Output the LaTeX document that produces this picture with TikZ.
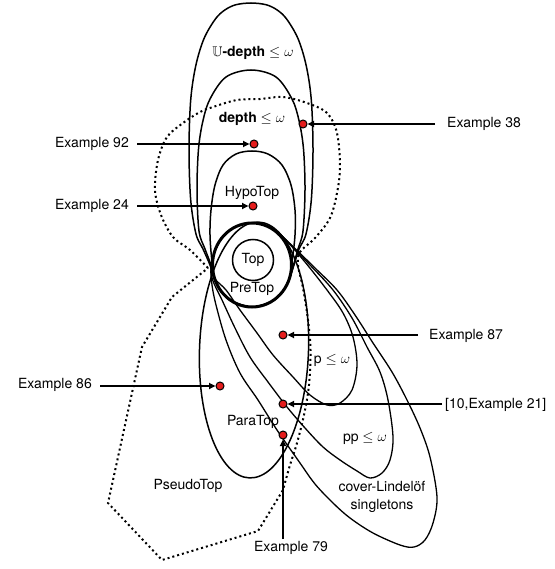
\documentclass[tikz,border=0pt]{standalone}
\usepackage{fontspec}
\usepackage{amssymb}
\setmainfont{TeX Gyre Heros}
\usetikzlibrary{arrows.meta}
\definecolor{dotred}{RGB}{228,28,28}
\begin{document}
\begin{tikzpicture}[x=1pt,y=-1pt,
  region/.style={line width=1.5pt},
  tilt/.style={line width=1.3pt},
  dotline/.style={line width=2pt, dash pattern=on 2pt off 3pt},
  lbl/.style={font=\fontsize{14}{16}\selectfont, inner sep=0pt},
  reddot/.style={circle, fill=dotred, draw=black, line width=1pt, minimum size=8pt, inner sep=0pt},
  arr/.style={line width=1.8pt, -{Triangle[length=6.5pt,width=6pt]}}]
\useasboundingbox[fill=white] (0,0) rectangle (554,569);

% U-depth
\draw[region] plot[smooth cycle, tension=0.55] coordinates {(252,307) (232.3,301.4) (221.7,292) (214.9,279.4) (210,265) (203,249) (196,234) (190.7,200) (189,150) (190.7,100) (195.8,65.6) (204,38.6) (215.4,19) (224.7,10.1) (235.7,4.8) (251,3) (266.3,4.8) (277.3,10.1) (286.6,19) (298,38.6) (306.2,65.6) (311.3,100) (313,150) (311.3,200) (306,234) (299,249) (294,265) (289.1,279.4) (282.3,292) (271.8,301.4)};
% depth
\draw[region] plot[smooth cycle, tension=0.55] coordinates {(252,307) (232.3,301.4) (221.7,292) (214.9,279.4) (211,265) (205,249) (199,231) (197,190) (198.5,149) (202.9,121) (210,99) (226,77) (251,70) (276,77) (292,99) (299.1,121) (303.5,149) (305,190) (303,231) (298,249) (293.5,265) (289.1,279.4) (282.3,292) (271.8,301.4)};
% HypoTop
\draw[region] plot[smooth cycle, tension=0.55] coordinates {(252,307) (232.3,301.4) (221.7,292) (214.9,279.4) (212,262) (210,235) (211,210) (215,185) (223,165) (236,154) (252,151) (268,154) (282,165) (291,185) (295,210) (295,235) (292,262) (289.1,279.4) (282.3,292) (271.8,301.4)};
% ParaTop
\draw[region, rotate around={-2:(254,350)}] (254,350) ellipse (54.5 and 128);
% p <= omega
\draw[tilt] plot[smooth cycle, tension=0.55] coordinates {(211,268) (215,251) (222,238) (232,228.6) (245,223.6) (259,223.6) (272,228.6) (284,238) (305,262) (327,290) (343,313) (353,337) (357,365) (352,390) (340,403) (327,405) (310,395) (293,377) (273,355) (257,333) (240,310) (226,290) (215,279)};
% pp <= omega
\draw[tilt] plot[smooth cycle, tension=0.55] coordinates {(211,268) (215,251) (222,238) (232,228.6) (245,223.6) (259,223.6) (272,228.6) (284,238) (310,265) (333,290) (352,318) (367,347) (380,372) (388,400) (393,437) (390,460) (382,473) (370,478) (357,471) (340,460) (323,447) (305,428) (287,407) (268,382) (250,357) (235,328) (222,300) (213,281)};
% cover-Lindeloef singletons
\draw[tilt] plot[smooth cycle, tension=0.55] coordinates {(211,268) (215,251) (222,238) (232,228.6) (245,223.6) (259,223.6) (272,228.6) (284,238) (315,268) (337,290) (355,315) (373,343) (392,372) (407,400) (420,428) (430,457) (437,497) (433,523) (425,540) (414,547) (400,545) (373,533) (350,518) (333,503) (315,484) (300,463) (277,430) (258,400) (240,373) (226,340) (216,305) (212,285)};
% PseudoTop (dotted)
\draw[dotline] plot[smooth, tension=0.55] coordinates {(208,268) (190,250) (173,237) (161,215) (155,190) (158,160) (167,137) (183,123) (200,112) (213,107) (237,100) (260,99) (283,97) (307,103) (327,113) (337,133) (340,167) (337,193) (330,218) (315,238) (300,252) (298,265) (303,288) (308,320) (310.5,350) (309,385) (304,415) (297,443) (290,465) (283,490)} -- (258,531) -- (162,560) -- (108,503) -- (142,347) -- (172,297) -- (208,268);
% PreTop ring
\draw[line width=3pt] (252,265) ellipse (39.5 and 42);
\node[circle, draw, line width=1.5pt, minimum size=41pt, inner sep=0pt, lbl] (top) at (253,260) {Top};

% labels inside
\node[lbl] (lu) at (253,53) {$\mathbb{U}$\textbf{-depth} $\leq\omega$};
\node[lbl] (ld) at (252,119) {\textbf{depth} $\leq\omega$};
\node[lbl] (lh) at (252,193) {HypoTop};
\node[lbl] (lpre) at (252,289) {PreTop};
\node[lbl] (lp) at (332,360) {p $\leq\omega$};
\node[lbl] (lpara) at (253,422) {ParaTop};
\node[lbl] (lpp) at (365,438) {pp $\leq\omega$};
\node[lbl] (lpseudo) at (188,486) {PseudoTop};
\node[lbl, align=center] (lcl) at (382,497) {cover-Lindelöf\\[2pt]singletons};

% dots
\node[reddot] (d38) at (303,124) {};
\node[reddot] (d92) at (254,144) {};
\node[reddot] (d24) at (253,206) {};
\node[reddot] (d87) at (283,335) {};
\node[reddot] (d86) at (220,386) {};
\node[reddot] (d21) at (283,404) {};
\node[reddot] (d79) at (283,435) {};

% example labels
\node[lbl, anchor=west] (t38) at (447,124) {Example 38};
\node[lbl, anchor=east] (t92) at (129,144) {Example 92};
\node[lbl, anchor=east] (t24) at (129,206) {Example 24};
\node[lbl, anchor=west] (t87) at (429,336) {Example 87};
\node[lbl, anchor=east] (t86) at (92,385) {Example 86};
\node[lbl, anchor=west] (t21) at (445,405) {[10,Example 21]};
\node[lbl] (t79) at (291,548) {Example 79};

% arrows
\draw[arr, shorten <=12pt] (t38.west |- d38) -- (d38);
\draw[arr, shorten <=8pt] (t92.east |- d92) -- (d92);
\draw[arr, shorten <=8pt] (t24.east |- d24) -- (d24);
\draw[arr, shorten <=11pt] (t87.west |- d87) -- (d87);
\draw[arr, shorten <=8pt] (t86.east |- d86) -- (d86);
\draw[arr, shorten <=3pt] (t21.west |- d21) -- (d21);
\draw[arr, shorten <=2pt] (d79 |- t79.north) -- (d79);
\end{tikzpicture}
\end{document}
